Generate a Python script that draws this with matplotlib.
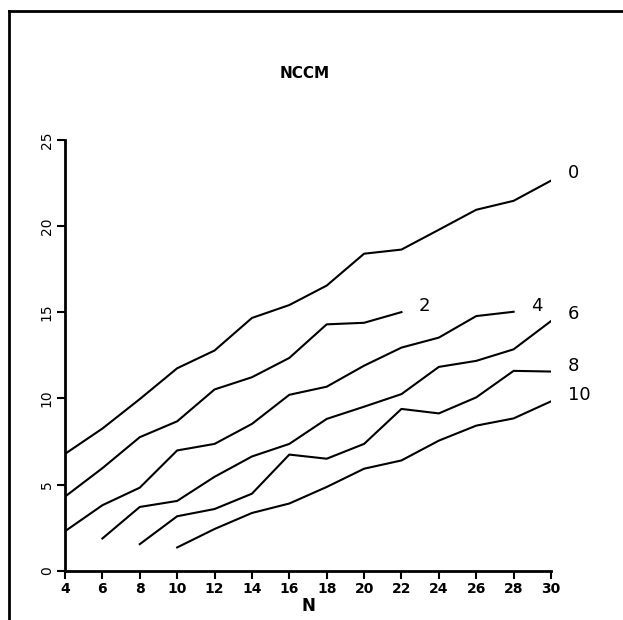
import matplotlib
matplotlib.use("Agg")
import matplotlib.pyplot as plt
from matplotlib.lines import Line2D

# curve labels and their N ranges
labels = ["0", "2", "4", "6", "8", "10"]
n_start = [4, 4, 4, 6, 8, 10]
n_end = [30, 22, 28, 30, 30, 30]

nccm_0 = [6.78, 8.25, 9.96, 11.75, 12.78, 14.67, 15.42, 16.55, 18.4, 18.64,
          19.79, 20.95, 21.47, 22.64]
nccm_2 = [4.3, 5.95, 7.75, 8.67, 10.52, 11.23, 12.35, 14.3, 14.39, 15.01]
nccm_4 = [2.29, 3.8, 4.82, 6.98, 7.36, 8.52, 10.21, 10.68, 11.9, 12.95,
          13.53, 14.78, 15.03]
nccm_6 = [1.87, 3.7, 4.05, 5.45, 6.63, 7.36, 8.81, 9.52, 10.25, 11.83,
          12.18, 12.85, 14.49]
nccm_8 = [1.54, 3.16, 3.58, 4.47, 6.74, 6.5, 7.36, 9.39, 9.13, 10.06,
          11.6, 11.56]
nccm_10 = [1.35, 2.42, 3.35, 3.9, 4.86, 5.92, 6.4, 7.55, 8.42, 8.84, 9.83]

x_ticks = list(range(4, 31, 2))
y_ticks = [0, 5, 10, 15, 20, 25]

# where each curve label sits (data coords)
label_pos = [(31.2, 23.1), (23.2, 15.35), (29.25, 15.35),
             (31.2, 14.9), (31.2, 11.9), (31.5, 10.2)]

series = [nccm_0, nccm_2, nccm_4, nccm_6, nccm_8, nccm_10]

fig = plt.figure(figsize=(6.23, 6.20), dpi=100)
ax = fig.add_axes([65 / 623, 1 - 570.7 / 620, (551 - 65) / 623,
                   (570.7 - 140) / 620])

for values, start, end in zip(series, n_start, n_end):
    xs = list(range(start, end + 1, 2))
    ax.plot(xs, values, color="black", linewidth=1.5)

for text, (tx, ty) in zip(labels, label_pos):
    ax.text(tx, ty, text, ha="center", va="center", fontsize=13,
            clip_on=False)

ax.set_xlim(4, 30)
ax.set_ylim(0, 25)
ax.set_xticks(x_ticks)
ax.set_yticks(y_ticks)
ax.set_xticklabels([str(v) for v in x_ticks], fontsize=10, fontweight="bold")
ax.set_yticklabels([str(v) for v in y_ticks], fontsize=10, rotation=90,
                   va="center")
ax.tick_params(direction="out", length=6, width=1.5, color="black", pad=2)
for side in ["top", "right"]:
    ax.spines[side].set_visible(False)
for side in ["left", "bottom"]:
    ax.spines[side].set_linewidth(2)
ax.set_xlabel("N", fontsize=12, fontweight="bold", labelpad=1)

fig.text(305 / 623, 1 - 74 / 620, "NCCM", ha="center", va="center",
         fontsize=11, fontweight="semibold")

# outer frame, left and top only
fig.add_artist(Line2D([9 / 623, 9 / 623], [0, 1 - 11 / 620],
                      transform=fig.transFigure, color="black", linewidth=2))
fig.add_artist(Line2D([9 / 623, 1], [1 - 11 / 620, 1 - 11 / 620],
                      transform=fig.transFigure, color="black", linewidth=2))

fig.savefig("out.png", dpi=100)
